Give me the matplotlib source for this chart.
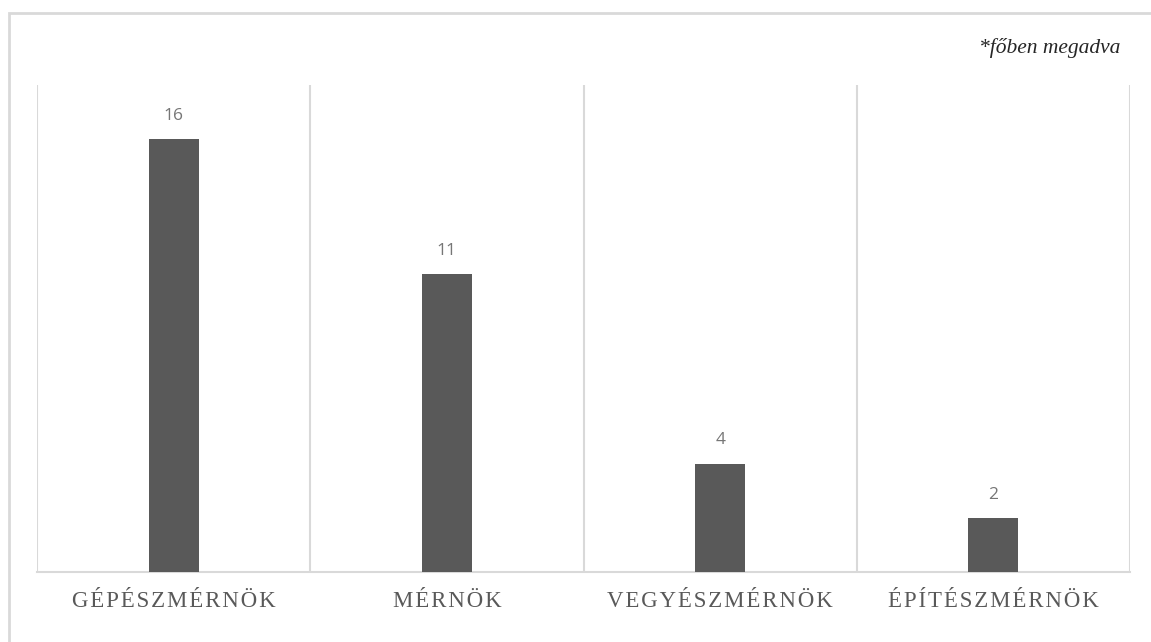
import numpy as np
import matplotlib.pyplot as plt
from matplotlib.patches import Rectangle

categories = ["GÉPÉSZMÉRNÖK", "MÉRNÖK", "VEGYÉSZMÉRNÖK", "ÉPÍTÉSZMÉRNÖK"]
values = [16, 11, 4, 2]
note = "*főben megadva"

bar_color = "#595959"
grid_color = "#d9d9d9"
label_color = "#595959"


def spaced(s):
    # imitate the wide letter spacing of the original labels
    return "\u200a".join(s)


fig = plt.figure(figsize=(11.51, 6.42), dpi=100)
ax = fig.add_axes([37 / 1151, 1 - 572 / 642, (1130 - 37) / 1151, (572 - 85) / 642])

# light frame around the chart area (runs off the right and bottom edge)
fig.patches.append(Rectangle((9 / 1151, -0.05), 1.1, 1 - 13 / 642 + 0.05,
                             transform=fig.transFigure, fill=False,
                             edgecolor=grid_color, linewidth=2))

x = np.arange(len(categories))
ax.bar(x, values, width=0.183, color=bar_color, zorder=3)

for xi, v in zip(x, values):
    ax.annotate(str(v), (xi, v), xytext=(0, 11), textcoords="offset points",
                ha="center", va="bottom", fontsize=12.5, color="#767676",
                family="Open Sans")

ax.set_xlim(-0.5, len(categories) - 0.5)
ax.set_ylim(0, 18)
ax.set_yticks([])
ax.set_xticks(x)
ax.set_xticklabels([spaced(c) for c in categories], family="Liberation Serif",
                   fontsize=16.5, color=label_color)
ax.tick_params(axis="x", length=0, pad=14)

for b in np.arange(-0.5, len(categories), 1):
    ax.axvline(b, color=grid_color, linewidth=1.5, zorder=1)

for side in ["top", "right", "left"]:
    ax.spines[side].set_visible(False)
ax.spines["bottom"].set_color(grid_color)
ax.spines["bottom"].set_linewidth(1.5)

fig.text(1120 / 1151, 1 - 48 / 642, note, ha="right", va="center",
         family="Liberation Serif", style="italic", fontsize=15.5, color="#262626")

fig.savefig("out.png", dpi=100)
